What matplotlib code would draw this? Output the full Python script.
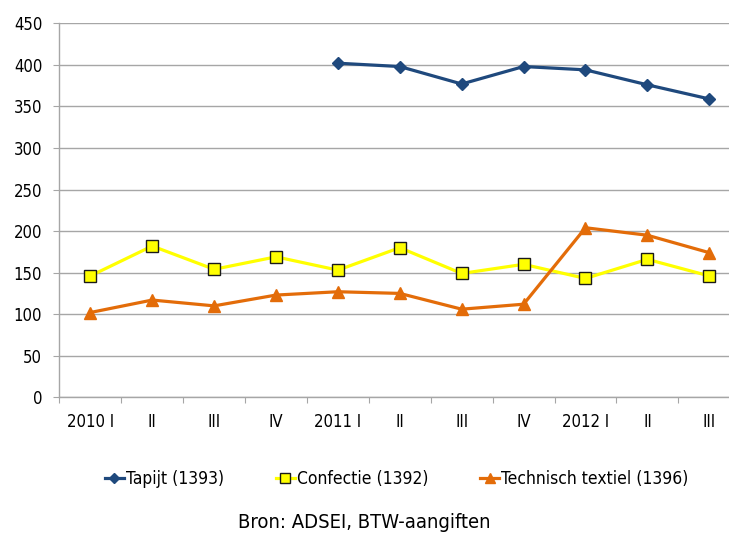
import numpy as np
import matplotlib.pyplot as plt

plt.rcParams['font.family'] = ['Liberation Sans Narrow', 'DejaVu Sans']
plt.rcParams['font.stretch'] = 'condensed'

# data
kwartalen = ['2010 I', 'II', 'III', 'IV', '2011 I', 'II', 'III', 'IV', '2012 I', 'II', 'III']
tapijt = [np.nan, np.nan, np.nan, np.nan, 402, 398, 377, 398, 394, 376, 359]
confectie = [146, 182, 154, 169, 153, 180, 149, 160, 143, 166, 146]
technisch = [102, 117, 110, 123, 127, 125, 106, 112, 204, 195, 174]

x = np.arange(len(kwartalen))

fig = plt.figure(figsize=(7.29, 5.36), dpi=100)
ax = fig.add_axes([0.0814, 0.2588, 0.934, 0.6977])

ax.plot(x, tapijt, color='#1F497D', lw=2.3, marker='D', ms=6.5,
        label='Tapijt (1393)')
ax.plot(x, confectie, color='#FFFF00', lw=2.3, marker='s', ms=8.5,
        mfc='#FFFF00', mec='#1a1a1a', mew=1.0, label='Confectie (1392)')
ax.plot(x, technisch, color='#E36C09', lw=2.3, marker='^', ms=8.5,
        label='Technisch textiel (1396)')

ax.set_xlim(-0.5, len(kwartalen) - 0.5)
ax.set_ylim(0, 450)
ax.set_yticks(np.arange(0, 451, 50))
ax.yaxis.grid(True, color='#A6A6A6', lw=1.0)
ax.set_axisbelow(True)

# category boundaries as major ticks, labels on minor ticks
ax.set_xticks(np.arange(-0.5, len(kwartalen), 1.0))
ax.set_xticklabels([])
ax.set_xticks(x, minor=True)
ax.set_xticklabels(kwartalen, minor=True)
ax.tick_params(axis='x', which='minor', length=0, labelsize=12, pad=11)
ax.tick_params(axis='x', which='major', length=4.3, color='#A6A6A6')
ax.tick_params(axis='y', length=4.3, color='#A6A6A6', labelsize=12, pad=8)

for s in ['top', 'right']:
    ax.spines[s].set_visible(False)
for s in ['left', 'bottom']:
    ax.spines[s].set_color('#A6A6A6')
    ax.spines[s].set_linewidth(1.0)

fig.legend(loc='center', bbox_to_anchor=(0.544, 0.106), ncol=3, frameon=False,
           fontsize=12.5, handlelength=1.1, handletextpad=0.1, columnspacing=3.0,
           markerscale=0.8)

fig.text(0.5, 0.008, 'Bron: ADSEI, BTW-aangiften', ha='center', va='bottom',
         fontsize=14.5)

fig.savefig('out.png', dpi=100)
